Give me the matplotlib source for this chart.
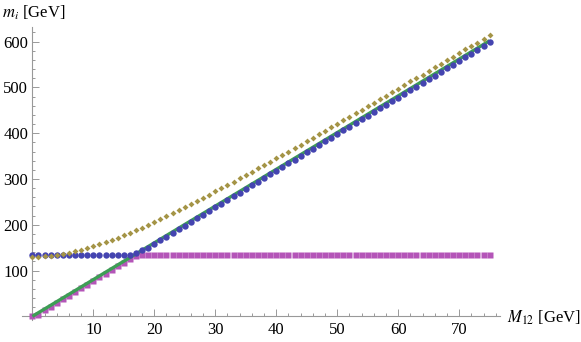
import matplotlib
matplotlib.use("Agg")
import matplotlib.pyplot as plt
from matplotlib.ticker import MultipleLocator

plt.rcParams['font.family'] = ['Liberation Serif', 'DejaVu Serif']
plt.rcParams['mathtext.fontset'] = 'stix'

# ---- data ----
M12 = list(range(0, 76))

m_gold = [130, 130, 131, 132, 134, 136, 139, 142, 145, 149,
          153, 157, 162, 167, 172, 177, 182, 188, 194, 200,
          206, 212, 219, 225, 232, 239, 245, 252, 259, 266,
          273, 280, 287, 294, 302, 309, 316, 323, 331, 338,
          345, 353, 360, 368, 375, 383, 390, 398, 405, 413,
          421, 428, 436, 444, 451, 459, 467, 474, 482, 490,
          497, 505, 513, 521, 528, 536, 544, 552, 559, 567,
          575, 583, 591, 598, 606, 614]

m_blue = [135, 135, 135, 135, 135, 135, 135, 135, 135, 135,
          135, 135, 135, 135, 135, 135, 135, 138, 145, 150,
          158, 166, 174, 182, 190, 198, 206, 214, 222, 230,
          238, 246, 254, 262, 270, 278, 286, 294, 302, 310,
          318, 326, 334, 342, 350, 358, 366, 374, 382, 390,
          398, 406, 414, 422, 430, 438, 446, 454, 462, 470,
          478, 486, 494, 502, 510, 518, 526, 534, 542, 550,
          558, 566, 574, 582, 590, 599]

m_magenta = [0, 4, 13, 21, 29, 37, 45, 53, 61, 69,
             77, 85, 93, 101, 109, 117, 125, 132, 135, 135,
             135, 135, 135, 135, 135, 135, 135, 135, 135, 135,
             135, 135, 135, 135, 135, 135, 135, 135, 135, 135,
             135, 135, 135, 135, 135, 135, 135, 135, 135, 135,
             135, 135, 135, 135, 135, 135, 135, 135, 135, 135,
             135, 135, 135, 135, 135, 135, 135, 135, 135, 135,
             135, 135, 135, 135, 135, 135]

green_x = [0, 75]
green_y = [0, 602]

x_ticks = [10, 20, 30, 40, 50, 60, 70]
y_ticks = [100, 200, 300, 400, 500, 600]

# ---- figure ----
W, H = 581, 342
fig = plt.figure(figsize=(W / 100, H / 100), dpi=100)
left_px, right_px = 22, 500
top_px, bot_px = 27, 320
ax = fig.add_axes([left_px / W, 1 - bot_px / H,
                   (right_px - left_px) / W, (bot_px - top_px) / H])
ax.set_xlim(-1.7, 76.7)
ax.set_ylim(-8, 632)

c_blue = '#4444b0'
c_mag = '#b455b8'
c_gold = '#a49446'
c_green = '#3d9e55'

ax.plot(M12, m_magenta, linestyle='none', marker='s', ms=3.9,
        color=c_mag, mec='none', zorder=3)
ax.plot(green_x, green_y, '-', color=c_green, lw=2.4, zorder=4,
        solid_capstyle='butt')
ax.plot(M12, m_blue, linestyle='none', marker='o', ms=4.6,
        color=c_blue, mec='none', zorder=5)
ax.plot(M12, m_gold, linestyle='none', marker='D', ms=3.0,
        color=c_gold, mec='none', zorder=6)

for s in ['top', 'right']:
    ax.spines[s].set_visible(False)
ax.spines['left'].set_position(('data', 0))
ax.spines['bottom'].set_position(('data', 0))
for s in ['left', 'bottom']:
    ax.spines[s].set_color('#999999')
    ax.spines[s].set_linewidth(0.8)

ax.set_xticks(x_ticks)
ax.set_yticks(y_ticks)
ax.xaxis.set_minor_locator(MultipleLocator(2))
ax.yaxis.set_minor_locator(MultipleLocator(20))
ax.tick_params(which='both', direction='in', color='#999999', width=0.7,
               labelsize=12, labelcolor='black')
ax.tick_params(which='major', length=5)
ax.tick_params(which='minor', length=2.5)
ax.tick_params(axis='x', pad=4)
ax.tick_params(axis='y', pad=3)

fig.text(2 / W, 1 - 13 / H, r'$m_i$ [GeV]', fontsize=12, va='center', ha='left')
fig.text(507 / W, 1 - 318 / H, r'$M_{12}$ [GeV]', fontsize=12, va='center', ha='left')

fig.savefig('out.png', dpi=100)
